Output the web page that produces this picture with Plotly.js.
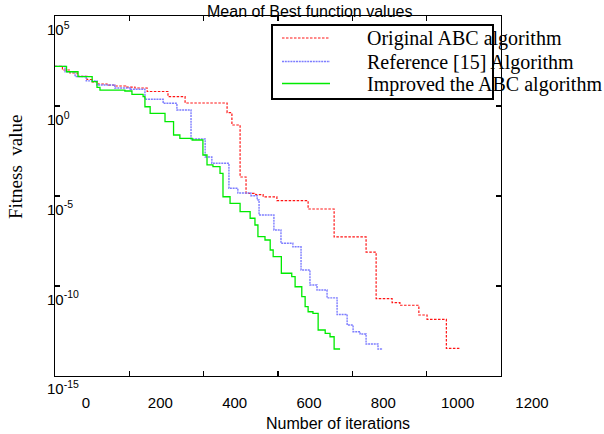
<!DOCTYPE html>
<html>
<head>
<meta charset="utf-8">
<script src="https://cdn.plot.ly/plotly-3.0.1.min.js"></script>
<style>html,body{margin:0;padding:0;background:#fff;}#chart{width:604px;height:434px;}</style>
</head>
<body>
<div id="chart"></div>
<script>
// ---- data (iteration, mean best fitness) ----
const seriesNames = ["Original ABC algorithm", "Reference [15] Algorithm", "Improved the ABC algorithm"];

const redX = [0, 20, 40, 60, 86, 100, 116, 140, 161, 190, 215, 248, 304, 350, 463, 476, 498, 514, 540, 560, 597, 681, 751, 837, 864, 907, 928, 979, 1001, 1053, 1088];
const redY = [160, 100, 68, 45, 29.6, 22, 16.7, 14.5, 12.9, 11.2, 10, 6.4, 3.3, 1.47, 0.425, 0.088, 1.14e-4, 1.41e-5, 1.2e-5, 9e-6, 5.5e-6, 1.9e-6, 5.3e-8, 7.7e-9, 2.0e-11, 1.18e-11, 8.5e-12, 2.45e-12, 1.41e-12, 3.4e-14, 3.4e-14];

const blueX = [0, 27, 54, 84, 113, 161, 202, 242, 291, 328, 366, 404, 422, 468, 492, 527, 544, 549, 589, 608, 640, 662, 686, 705, 732, 759, 786, 802, 821, 837, 869, 882];
const blueY = [160, 80, 43.5, 25, 14.7, 10, 8.5, 2.36, 1.41, 0.6, 0.0147, 1.47e-3, 6.6e-4, 2.68e-5, 1.47e-5, 1.04e-5, 6.0e-6, 8.8e-7, 1.29e-7, 2.36e-8, 1.52e-8, 7.7e-10, 1.14e-10, 6.0e-11, 2.2e-11, 2.6e-12, 6.8e-13, 2.9e-13, 2.15e-13, 6.0e-14, 3.16e-14, 3.16e-14];

const greenX = [0, 31, 62, 100, 113, 121, 188, 207, 237, 242, 256, 296, 319, 336, 369, 398, 409, 425, 444, 452, 471, 498, 525, 538, 546, 565, 579, 587, 609, 637, 646, 664, 673, 681, 694, 708, 727, 740, 751, 767];
const greenY = [160, 80, 42.5, 22.4, 10.9, 7.7, 6.8, 4.47, 3.3, 0.91, 0.393, 0.134, 0.0245, 0.0161, 0.0129, 1.9e-3, 5.3e-4, 4.25e-4, 1.82e-4, 9.1e-6, 3.9e-6, 1.34e-6, 5.8e-7, 2.45e-7, 5.5e-8, 3.6e-8, 1e-8, 4.25e-9, 5.1e-10, 3.3e-10, 9.1e-11, 2.55e-11, 7.1e-12, 3.7e-12, 3.0e-12, 3.6e-13, 2.35e-13, 1.52e-13, 3.16e-14, 3.16e-14];

const xTickLabels = [0, 200, 400, 600, 800, 1000, 1200];
const yTickVals = [1e5, 1, 1e-5, 1e-10, 1e-15];
const yTickText = ["10<sup>5</sup>", "10<sup>0</sup>", "10<sup>-5</sup>", "10<sup>-10</sup>", "10<sup>-15</sup>"];

const titleText = "Mean of Best function values";
const xTitleText = "Number of iterations";
const yTitleText = "Fitness\u00a0 value";

// ---- styling / layout ----
const colors = ["rgb(255,20,20)", "rgb(125,125,255)", "rgb(0,235,0)"];
const dashes = ["2.5px,1.5px", "2px,0.8px", "solid"];
const widths = [1.2, 1.4, 1.3];

const M = {l: 30, r: 20, t: 16, b: 20};
const PW = 604 - M.l - M.r, PH = 434 - M.t - M.b;
const fx = p => (p - M.l) / PW;
const fy = p => (434 - M.b - p) / PH;

const xs = [redX, blueX, greenX], ys = [redY, blueY, greenY];
const traces = xs.map((x, i) => ({
  x: x, y: ys[i], type: "scatter", mode: "lines", name: seriesNames[i],
  line: {color: colors[i], dash: dashes[i], width: widths[i], shape: "hv"},
  xaxis: "x", yaxis: "y", hoverinfo: "skip"
}));
// empty carriers so the tick-label axes get drawn
traces.push({x: [], y: [], type: "scatter", mode: "lines", xaxis: "x2", yaxis: "y", hoverinfo: "skip", showlegend: false});
traces.push({x: [], y: [], type: "scatter", mode: "lines", xaxis: "x", yaxis: "y2", hoverinfo: "skip", showlegend: false});

const sans = "Liberation Sans, Arial, sans-serif";
const serif = "Liberation Serif, Times New Roman, serif";

const legendRows = [38, 61.5, 83.5];
const shapes = [{
  type: "rect", xref: "paper", yref: "paper",
  x0: fx(272), x1: fx(493), y0: fy(99), y1: fy(25),
  line: {color: "black", width: 2}, fillcolor: "white", layer: "above"
}];
legendRows.forEach((r, i) => shapes.push({
  type: "line", xref: "paper", yref: "paper",
  x0: fx(282), x1: fx(330), y0: fy(r), y1: fy(r),
  line: {color: colors[i], dash: dashes[i], width: widths[i]}, layer: "above"
}));

const annotations = seriesNames.map((n, i) => ({
  text: n, xref: "paper", yref: "paper", x: fx(365), y: fy(legendRows[i] + 1),
  xanchor: "left", yanchor: "middle", showarrow: false,
  font: {family: serif, size: 20, color: "black"}
}));
annotations.push({
  text: titleText, xref: "paper", yref: "paper", x: fx(309), y: fy(11),
  xanchor: "center", yanchor: "middle", showarrow: false,
  font: {family: sans, size: 16, color: "black"}
});
annotations.push({
  text: xTitleText, xref: "paper", yref: "paper", x: fx(338), y: fy(423),
  xanchor: "center", yanchor: "middle", showarrow: false,
  font: {family: sans, size: 16, color: "black"}
});
annotations.push({
  text: yTitleText, xref: "paper", yref: "paper", x: fx(15), y: fy(167),
  xanchor: "center", yanchor: "middle", showarrow: false, textangle: -90,
  font: {family: serif, size: 19, color: "black"}
});

const layout = {
  width: 604, height: 434,
  margin: M,
  paper_bgcolor: "white", plot_bgcolor: "rgba(0,0,0,0)",
  showlegend: false,
  xaxis: {
    domain: [fx(55), fx(501)], range: [0, 1200], dtick: 200, tick0: 0,
    showline: true, linecolor: "black", linewidth: 1.3, mirror: "ticks",
    ticks: "inside", ticklen: 5, tickwidth: 1.2, tickcolor: "black",
    showticklabels: false, showgrid: false, zeroline: false, anchor: "y"
  },
  yaxis: {
    domain: [fy(376), fy(16)], type: "log", range: [-15, 5], dtick: 5, tick0: 0,
    showline: true, linecolor: "black", linewidth: 1.3, mirror: "ticks",
    ticks: "inside", ticklen: 5, tickwidth: 1.2, tickcolor: "black",
    showticklabels: false, showgrid: false, zeroline: false, anchor: "x"
  },
  xaxis2: {
    domain: [0, 1], range: [-150.67, 1339.9], anchor: "free", position: fy(392),
    tickmode: "array", tickvals: xTickLabels, ticktext: xTickLabels.map(String),
    ticks: "", showline: false, showgrid: false, zeroline: false,
    tickfont: {family: sans, size: 15, color: "black"}
  },
  yaxis2: {
    domain: [0, 1], type: "log", range: [-16.393, 5.78], anchor: "free", position: fx(46), side: "right",
    tickmode: "array", tickvals: yTickVals, ticktext: yTickText,
    ticks: "", showline: false, showgrid: false, zeroline: false,
    tickfont: {family: sans, size: 15, color: "black"}
  },
  shapes: shapes,
  annotations: annotations
};

Plotly.newPlot("chart", traces, layout, {staticPlot: true, displayModeBar: false});
</script>
</body>
</html>
